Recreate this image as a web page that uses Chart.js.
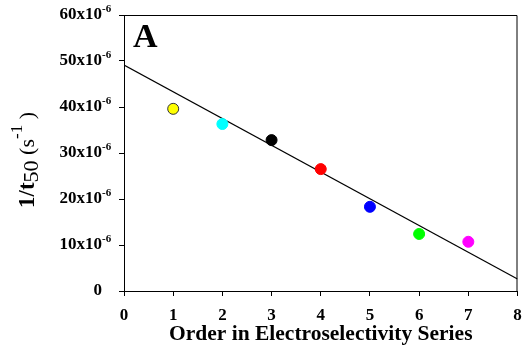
<!DOCTYPE html>
<html>
<head>
<meta charset="utf-8">
<script src="https://cdn.jsdelivr.net/npm/chart.js@4"></script>
<style>
  html, body { margin: 0; padding: 0; background: #fff; }
  #wrap { width: 524px; height: 351px; }
</style>
</head>
<body>
<div id="wrap"><canvas id="rate-chart" width="524" height="351"></canvas></div>
<script>
// rate values are in units of 10^-6 s^-1
const order = [1, 2, 3, 4, 5, 6, 7];
const rate = [39.6, 36.3, 32.8, 26.5, 18.3, 12.4, 10.7];
const dotColors = ['#ffff00', '#00ffff', '#000000', '#ff0000', '#0000ff', '#00ff00', '#ff00ff'];
const dotBorders = ['#333333', '#00ffff', '#000000', '#ff0000', '#0000ff', '#00ff00', '#ff00ff'];
const fitX = [0, 8];
const fitY = [49.1, 2.6];
const yTicks = [0, 10, 20, 30, 40, 50, 60];
const xTicks = [0, 1, 2, 3, 4, 5, 6, 7, 8];

const serif = "'Liberation Serif', 'Times New Roman', serif";

// frame, y labels with exponents, y title and panel letter
const extras = {
  id: 'extras',
  afterDraw(chart) {
    const c = chart.ctx;
    const a = chart.chartArea;
    const ys = chart.scales.y;
    c.save();
    c.strokeStyle = '#000';
    c.lineWidth = 1;
    c.beginPath();
    c.moveTo(a.left, a.top + 0.5);
    c.lineTo(a.right - 0.5, a.top + 0.5);
    c.lineTo(a.right - 0.5, a.bottom);
    c.stroke();

    c.fillStyle = '#000';
    c.textBaseline = 'middle';
    yTicks.forEach(v => {
      const py = ys.getPixelForValue(v);
      c.font = 'bold 17px ' + serif;
      c.textAlign = 'right';
      if (v === 0) {
        c.fillText('0', 102, py);
        return;
      }
      c.fillText(v + 'x10', 102, py);
      c.font = 'bold 11px ' + serif;
      c.textAlign = 'left';
      c.fillText('-6', 102, py - 6);
    });

    // y title: 1/t50 (s-1)
    c.translate(34, 160);
    c.rotate(-Math.PI / 2);
    c.textBaseline = 'alphabetic';
    c.textAlign = 'left';
    const parts = [
      { t: '1/t', f: 'bold 23px ', dy: 0 },
      { t: '50', f: '22px ', dy: 4 },
      { t: ' (s', f: '22px ', dy: 0 },
      { t: '-1', f: '17px ', dy: -12 },
      { t: ' )', f: '22px ', dy: 0 }
    ];
    let w = 0;
    parts.forEach(p => { c.font = p.f + serif; w += c.measureText(p.t).width; });
    let x = -w / 2;
    parts.forEach(p => {
      c.font = p.f + serif;
      c.fillText(p.t, x, p.dy);
      x += c.measureText(p.t).width;
    });
    c.restore();

    c.save();
    c.fillStyle = '#000';
    c.font = 'bold 34px ' + serif;
    c.textBaseline = 'alphabetic';
    c.fillText('A', 133, 47);
    c.restore();
  }
};

const ctx = document.getElementById('rate-chart').getContext('2d');
const chart = new Chart(ctx, {
  type: 'scatter',
  data: {
    datasets: [
      {
        data: order.map((o, i) => ({ x: o, y: rate[i] })),
        pointRadius: 5.5,
        pointBackgroundColor: dotColors,
        pointBorderColor: dotBorders,
        pointBorderWidth: 1
      },
      {
        type: 'line',
        data: fitX.map((x, i) => ({ x: x, y: fitY[i] })),
        borderColor: '#000',
        borderWidth: 1.2,
        pointRadius: 0,
        fill: false
      }
    ]
  },
  options: {
    responsive: false,
    animation: false,
    layout: { padding: { left: 0, top: 15, right: 6, bottom: 0 } },
    plugins: { legend: { display: false }, tooltip: { enabled: false } },
    scales: {
      x: {
        type: 'linear',
        min: 0,
        max: 8,
        afterFit(s) { s.height = 60; s.paddingLeft = 0; s.paddingRight = 0; },
        afterBuildTicks(s) { s.ticks = xTicks.map(v => ({ value: v })); },
        grid: { drawOnChartArea: false, drawTicks: true, tickLength: 5, color: '#000' },
        border: { color: '#000', width: 1 },
        ticks: { color: '#000', padding: 9, font: { family: serif, size: 17, weight: 'bold' } },
        title: {
          display: true,
          text: 'Order in Electroselectivity Series',
          color: '#000',
          padding: { top: 0, bottom: 4 },
          font: { family: serif, size: 21.5, weight: 'bold' }
        }
      },
      y: {
        min: 0,
        max: 60,
        afterFit(s) { s.width = 124; s.paddingTop = 0; s.paddingBottom = 0; },
        afterBuildTicks(s) { s.ticks = yTicks.map(v => ({ value: v })); },
        grid: { drawOnChartArea: false, drawTicks: true, tickLength: 5, color: '#000' },
        border: { color: '#000', width: 1 },
        ticks: { display: false }
      }
    }
  },
  plugins: [extras]
});
</script>
</body>
</html>
